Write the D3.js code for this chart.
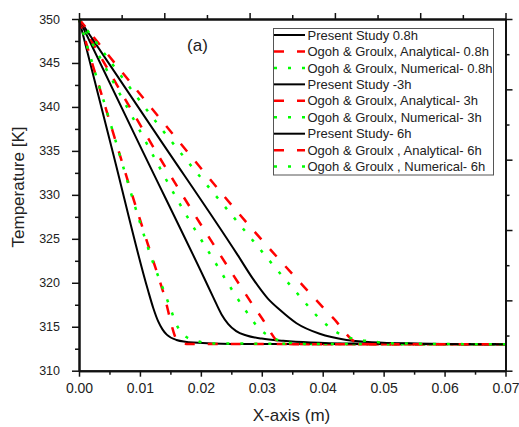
<!DOCTYPE html>
<html>
<head>
<meta charset="utf-8">
<script src="https://cdn.jsdelivr.net/npm/d3@7"></script>
<style>
  body { margin: 0; background: #fff; }
  svg { font-family: "Liberation Sans", Arial, sans-serif; }
</style>
</head>
<body>
<div class="chart"></div>
<script>

// tick values
const xMajor = [0, 0.01, 0.02, 0.03, 0.04, 0.05, 0.06, 0.07];
const xMinor = [0.005, 0.015, 0.025, 0.035, 0.045, 0.055, 0.065];
const yMajor = [310, 315, 320, 325, 330, 335, 340, 345, 350];
const yMinor = [312.5, 317.5, 322.5, 327.5, 332.5, 337.5, 342.5, 347.5];
const topMajor = [0, 0.014, 0.028, 0.042, 0.056, 0.07];
const topMinor = [0.007, 0.021, 0.035, 0.049, 0.063];
const rightMajor = [310, 318, 326, 334, 342, 350];
const rightMinor = [314, 322, 330, 338, 346];

// series: [x (m), temperature (K)]
const present08 = [[0,350],[0.0056,334.7],[0.0113,319.2],[0.0122,317.1],[0.0130,315.6],[0.0137,314.7],[0.0144,314.1],[0.016,313.5],[0.0188,313.2],[0.025,313.05],[0.07,313.0]];
const analytical08 = [[0,350],[0.0100,327.2],[0.0138,319.0],[0.0164,313.2],[0.018,313.05],[0.07,313.0]];
const numerical08 = [[0,350],[0.0050,338.5],[0.0099,327.1],[0.0118,323.0],[0.0143,318.4],[0.0151,316.9],[0.0159,315.4],[0.0171,314.1],[0.0192,313.4],[0.022,313.1],[0.07,313.0]];

const present3 = [[0,350],[0.0100,335.6],[0.0205,320.6],[0.0220,318.4],[0.0234,316.4],[0.0245,315.3],[0.0258,314.5],[0.0275,314.0],[0.030,313.65],[0.0335,313.4],[0.038,313.2],[0.045,313.08],[0.07,313.0]];
const analytical3 = [[0,350],[0.0166,330.4],[0.0253,320.9],[0.0300,316.0],[0.0332,313.1],[0.036,313.0],[0.07,313.0]];
const numerical3 = [[0,350],[0.0085,339.2],[0.0171,328.3],[0.0221,322.6],[0.0270,317.2],[0.0297,314.7],[0.0316,313.8],[0.0335,313.3],[0.037,313.05],[0.07,313.0]];

const present6 = [[0,350],[0.013,336.6],[0.026,323.2],[0.0285,320.5],[0.031,318.2],[0.033,316.9],[0.0357,315.4],[0.0395,314.2],[0.0439,313.5],[0.048,313.25],[0.055,313.1],[0.07,313.0]];
const analytical6 = [[0,350],[0.0134,338.6],[0.0282,326.3],[0.0366,319.8],[0.0417,316.0],[0.0460,313.1],[0.05,313.0],[0.07,313.0]];
const numerical6 = [[0,350],[0.0131,337.9],[0.0264,326.6],[0.0352,319.3],[0.0400,315.6],[0.0420,314.5],[0.0440,313.85],[0.0461,313.5],[0.0483,313.3],[0.052,313.1],[0.07,313.0]];

const legendLabels = [
  "Present Study 0.8h",
  "Ogoh & Groulx, Analytical- 0.8h",
  "Ogoh & Groulx, Numerical- 0.8h",
  "Present Study -3h",
  "Ogoh & Groulx, Analytical- 3h",
  "Ogoh & Groulx, Numerical- 3h",
  "Present Study- 6h",
  "Ogoh & Groulx , Analytical- 6h",
  "Ogoh & Groulx , Numerical- 6h"
];

const seriesList = [present08, analytical08, numerical08,
                    present3, analytical3, numerical3,
                    present6, analytical6, numerical6];

// line styles: black solid, red dash, green dot
const styles = [
  {stroke: "#000", width: 2, dash: null},
  {stroke: "#ff0000", width: 2.5, dash: "10,13"},
  {stroke: "#00ff00", width: 2.5, dash: "3,11"}
];

const W = 519, H = 427;
const plotL = 79, plotR = 505.5, plotT = 19, plotB = 370.7;

const svg = d3.select(".chart")
  .append("svg")
  .attr("width", W)
  .attr("height", H);

const xScale = d3.scaleLinear().domain([0, 0.07]).range([plotL, plotR]);
const yScale = d3.scaleLinear().domain([310, 350]).range([plotB, plotT]);

const line = d3.line()
  .curve(d3.curveMonotoneX)
  .x(d => xScale(d[0]))
  .y(d => yScale(d[1]));

// curves
seriesList.forEach((s, i) => {
  const st = styles[i % 3];
  svg.append("path")
    .datum(s)
    .attr("fill", "none")
    .attr("stroke", st.stroke)
    .attr("stroke-width", st.width)
    .attr("stroke-dasharray", st.dash)
    .attr("stroke-linejoin", "round")
    .attr("d", line);
});

// axes
function styleAxis(g) {
  g.select(".domain").attr("stroke", "#111").attr("stroke-width", 2);
  g.selectAll(".tick line").attr("stroke", "#111").attr("stroke-width", 1.5);
  g.selectAll(".tick text").attr("fill", "#222");
}

svg.append("g")
  .attr("transform", `translate(0,${plotB})`)
  .call(d3.axisBottom(xScale).tickValues(xMinor).tickSize(4).tickSizeOuter(0).tickFormat(""))
  .call(styleAxis);

svg.append("g")
  .attr("transform", `translate(0,${plotB})`)
  .call(d3.axisBottom(xScale).tickValues(xMajor).tickSize(6).tickSizeOuter(0)
        .tickPadding(6).tickFormat(d3.format(".2f")))
  .attr("font-size", 14)
  .attr("font-family", null)
  .call(styleAxis);

svg.append("g")
  .attr("transform", `translate(${plotL},0)`)
  .call(d3.axisLeft(yScale).tickValues(yMinor).tickSize(4).tickSizeOuter(0).tickFormat(""))
  .call(styleAxis);

svg.append("g")
  .attr("transform", `translate(${plotL},0)`)
  .call(d3.axisLeft(yScale).tickValues(yMajor).tickSize(7).tickSizeOuter(0)
        .tickPadding(12).tickFormat(d3.format("d")))
  .attr("font-size", 12.5)
  .attr("font-family", null)
  .call(styleAxis);

svg.append("g")
  .attr("transform", `translate(0,${plotT})`)
  .call(d3.axisTop(xScale).tickValues(topMinor).tickSize(4).tickSizeOuter(0).tickFormat(""))
  .call(styleAxis);

svg.append("g")
  .attr("transform", `translate(0,${plotT})`)
  .call(d3.axisTop(xScale).tickValues(topMajor).tickSize(6).tickSizeOuter(0).tickFormat(""))
  .call(styleAxis);

svg.append("g")
  .attr("transform", `translate(${plotR},0)`)
  .call(d3.axisRight(yScale).tickValues(rightMinor).tickSize(4).tickSizeOuter(0).tickFormat(""))
  .call(styleAxis);

svg.append("g")
  .attr("transform", `translate(${plotR},0)`)
  .call(d3.axisRight(yScale).tickValues(rightMajor).tickSize(7).tickSizeOuter(0).tickFormat(""))
  .call(styleAxis);

// axis titles
svg.append("text")
  .attr("x", 291.5)
  .attr("y", 421)
  .attr("text-anchor", "middle")
  .attr("font-size", 17)
  .attr("fill", "#222")
  .text("X-axis (m)");

svg.append("text")
  .attr("transform", "translate(24,187) rotate(-90)")
  .attr("text-anchor", "middle")
  .attr("font-size", 17)
  .attr("fill", "#222")
  .text("Temperature [K]");

svg.append("text")
  .attr("x", 197.5)
  .attr("y", 51)
  .attr("text-anchor", "middle")
  .attr("font-size", 17)
  .attr("fill", "#222")
  .text("(a)");

// legend
const lg = svg.append("g");
lg.append("rect")
  .attr("x", 273.5)
  .attr("y", 28.5)
  .attr("width", 220)
  .attr("height", 146.5)
  .attr("fill", "#fff")
  .attr("stroke", "#555")
  .attr("stroke-width", 1);

const rows = lg.selectAll(".row")
  .data(legendLabels)
  .enter()
  .append("g")
  .attr("class", "row")
  .attr("transform", (d, i) => `translate(0,${35 + i * 16.45})`);

rows.append("line")
  .attr("x1", 274)
  .attr("x2", 305)
  .attr("stroke", (d, i) => styles[i % 3].stroke)
  .attr("stroke-width", (d, i) => styles[i % 3].width)
  .attr("stroke-dasharray", (d, i) => styles[i % 3].dash);

rows.append("text")
  .attr("x", 307.5)
  .attr("dy", "0.36em")
  .attr("font-size", 13)
  .attr("fill", "#222")
  .text(d => d);

</script>
</body>
</html>
